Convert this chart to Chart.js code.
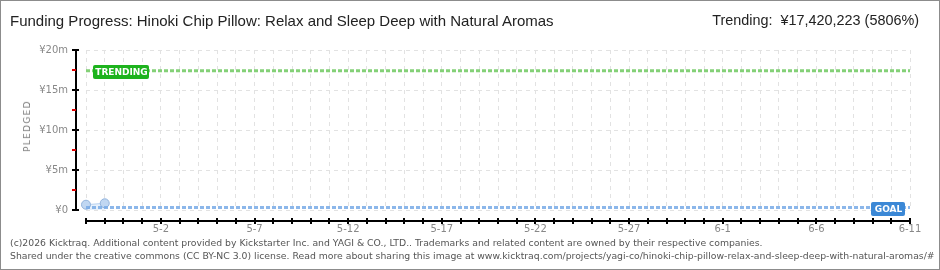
<!DOCTYPE html>
<html>
<head>
<meta charset="utf-8">
<script src="https://cdn.jsdelivr.net/npm/chart.js@4.4.1/dist/chart.umd.min.js"></script>
<style>
  html, body { margin: 0; padding: 0; background: #fff; }
  #page { position: relative; width: 940px; height: 270px; overflow: hidden; }
  #box { position: absolute; left: 0; top: 0; width: 938px; height: 268px; border: 1px solid #8c8c8c; pointer-events: none; }
  #wrap { position: absolute; left: 0; top: 0; width: 940px; height: 270px; }
  .title { position: absolute; left: 10px; top: 12px; font: 15px "Liberation Sans Narrow", "Liberation Sans", sans-serif; color: #222; white-space: nowrap; }
  .trend { position: absolute; right: 21px; top: 12px; font: 14.4px "Liberation Sans Narrow", "Liberation Sans", sans-serif; color: #222; white-space: nowrap; }
  .foot { position: absolute; left: 10px; font: 9.3px "DejaVu Sans", sans-serif; color: #555; white-space: nowrap; }
  .ylab { position: absolute; left: 27px; top: 126px; transform: translate(-50%, -50%) rotate(-90deg); font: 9px "DejaVu Sans", sans-serif; color: #7a7a7a; letter-spacing: 1.3px; white-space: nowrap; }
</style>
</head>
<body>
<div id="page">
  <div id="wrap"><canvas id="grafico"></canvas></div>
  <div class="title">Funding Progress: Hinoki Chip Pillow: Relax and Sleep Deep with Natural Aromas</div>
  <div class="trend">Trending:&nbsp; ¥17,420,223 (5806%)</div>
  <div class="ylab">PLEDGED</div>
  <div class="foot" style="top:237px">(c)2026 Kicktraq. Additional content provided by Kickstarter Inc. and YAGI &amp; CO., LTD.. Trademarks and related content are owned by their respective companies.</div>
  <div class="foot" style="top:250px">Shared under the creative commons (CC BY-NC 3.0) license. Read more about sharing this image at www.kicktraq.com/projects/yagi-co/hinoki-chip-pillow-relax-and-sleep-deep-with-natural-aromas/#</div>
  <div id="box"></div>
</div>
<script>
// dias contados a partir de 4-28 (dia 0) ate 6-11 (dia 44)
const pledgedDays = [0, 1];
const pledgedValues = [660000, 840000];
const goalValue = 300000;
const trendingValue = 17420223;
const lastDay = 44;

const xTickDays = [4, 9, 14, 19, 24, 29, 34, 39, 44];
const xTickLabels = ["5-2", "5-7", "5-12", "5-17", "5-22", "5-27", "6-1", "6-6", "6-11"];
const yTickValues = [0, 5000000, 10000000, 15000000, 20000000];
const yTickLabels = ["¥0", "¥5m", "¥10m", "¥15m", "¥20m"];

// eixos desenhados deslocados da area do grafico, como no original
const eixos = {
  id: "eixos",
  afterDraw(chart) {
    const { ctx, chartArea: a, scales: { x, y } } = chart;
    ctx.save();
    ctx.fillStyle = "#000";
    // eixo Y
    const ax = Math.round(a.left) - 10;
    ctx.fillRect(ax - 1, a.top, 2, a.bottom - a.top);
    for (const v of yTickValues) {
      const py = Math.round(y.getPixelForValue(v));
      ctx.fillRect(ax - 4, py - 1, 7, 2);
    }
    ctx.fillStyle = "#e00000";
    for (let i = 0; i < yTickValues.length - 1; i++) {
      const mid = (yTickValues[i] + yTickValues[i + 1]) / 2;
      const py = Math.round(y.getPixelForValue(mid));
      ctx.fillRect(ax - 4, py - 1, 4, 2);
    }
    // eixo X
    ctx.fillStyle = "#000";
    const ay = Math.round(a.bottom) + 11;
    ctx.fillRect(a.left, ay - 1, a.right - a.left + 1, 2);
    for (let d = 0; d <= lastDay; d++) {
      const px = Math.round(x.getPixelForValue(d));
      ctx.fillRect(px - 1, ay - 3, 2, 6);
    }
    ctx.restore();
  }
};

function etiqueta(ctx, texto, x0, yc, w, cor) {
  ctx.fillStyle = cor;
  ctx.beginPath();
  ctx.roundRect(x0, yc - 7, w, 14, 2);
  ctx.fill();
  ctx.fillStyle = "#fff";
  ctx.font = "bold 9px 'DejaVu Sans'";
  ctx.textAlign = "center";
  ctx.textBaseline = "middle";
  ctx.fillText(texto, x0 + w / 2 + 0.5, yc + 0.5);
}

const rotulos = {
  id: "rotulos",
  afterDatasetsDraw(chart) {
    const { ctx, chartArea: a, scales: { y } } = chart;
    ctx.save();
    etiqueta(ctx, "TRENDING", a.left + 7, Math.round(y.getPixelForValue(trendingValue)) + 1, 56, "#1db31d");
    etiqueta(ctx, "GOAL", a.right - 39, Math.round(y.getPixelForValue(goalValue)) + 1, 34, "#3b88d6");
    ctx.restore();
  }
};

new Chart(document.getElementById("grafico"), {
  type: "line",
  data: {
    datasets: [
      {
        label: "Trending",
        data: [{ x: 0, y: trendingValue }, { x: lastDay, y: trendingValue }],
        borderColor: "rgba(110,200,95,0.85)",
        borderWidth: 3,
        borderDash: [4, 2],
        pointRadius: 0,
        fill: false
      },
      {
        label: "Goal",
        data: [{ x: 0, y: goalValue }, { x: lastDay, y: goalValue }],
        borderColor: "rgba(120,170,230,0.85)",
        borderWidth: 3,
        borderDash: [4, 2],
        pointRadius: 0,
        fill: false
      },
      {
        label: "Pledged",
        data: pledgedDays.map((d, i) => ({ x: d, y: pledgedValues[i] })),
        borderColor: "rgba(175,204,238,0.9)",
        backgroundColor: "rgba(205,225,248,0.5)",
        borderWidth: 1,
        pointRadius: 4.5,
        pointBackgroundColor: "#c0d7f2",
        pointBorderColor: "#93b4dc",
        pointBorderWidth: 1,
        fill: "origin",
        clip: false
      }
    ]
  },
  options: {
    responsive: true,
    maintainAspectRatio: false,
    animation: false,
    parsing: false,
    layout: { padding: { top: 50, right: 30, left: 0, bottom: 0 } },
    plugins: { legend: { display: false }, tooltip: { enabled: false } },
    scales: {
      x: {
        type: "linear",
        min: 0,
        max: lastDay,
        afterFit: s => { s.height = 60; },
        grid: { color: "#e2e2e2", drawTicks: false },
        border: { display: false, dash: [4, 4] },
        ticks: {
          stepSize: 1,
          autoSkip: false,
          maxRotation: 0,
          maxTicksLimit: 100,
          padding: 13,
          color: "#888",
          font: { family: "DejaVu Sans", size: 10 },
          callback: v => {
            const i = xTickDays.indexOf(v);
            return i >= 0 ? xTickLabels[i] : "";
          }
        }
      },
      y: {
        min: 0,
        max: 20000000,
        afterFit: s => { s.width = 86; },
        grid: { color: "#e2e2e2", drawTicks: false },
        border: { display: false, dash: [4, 4] },
        ticks: {
          stepSize: 5000000,
          padding: 18,
          color: "#888",
          font: { family: "DejaVu Sans", size: 10 },
          callback: v => {
            const i = yTickValues.indexOf(v);
            return i >= 0 ? yTickLabels[i] : "";
          }
        }
      }
    }
  },
  plugins: [eixos, rotulos]
});
</script>
</body>
</html>
